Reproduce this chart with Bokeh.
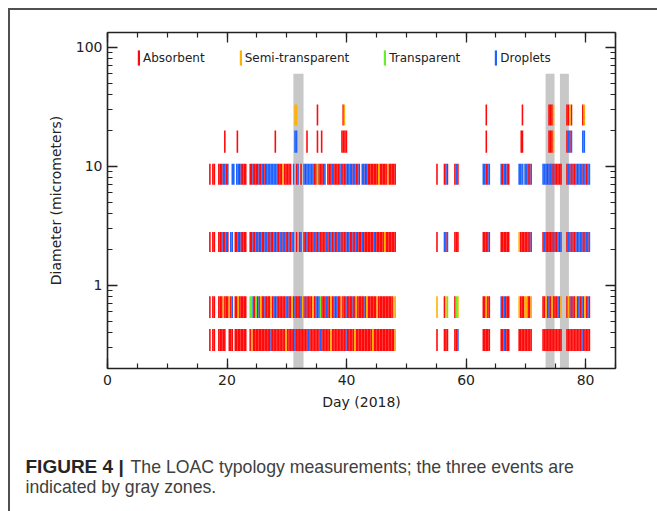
from bokeh.plotting import figure
from bokeh.layouts import column
from bokeh.models import (ColumnDataSource, LinearAxis, LogAxis, FixedTicker,
                          SingleIntervalTicker, Legend, LegendItem, Range1d)
from bokeh.core.properties import value
from bokeh.embed import file_html
from bokeh.resources import INLINE

# ---------------- data ----------------
FIRST_DAY = 17          # first day of the per-day code lists
SLOT = 0.25             # one code character = one measurement slot of 0.25 day
# codes: r = Absorbent, o = Semi-transparent, g = Transparent, b = Droplets, ' ' = none
blank = "    "
d03 = ["r rr", "  rr", "rrr ", " rrr", " rrr", "rrrr", "r  r", "orrr", "rrrr", "rrrr",
       "rbrr", "rrrr", "rrro", "rrrr", "rbrr", "rrrr", "rrbr", "rrrr", "rrbr", "rrrr",
       "rorr", "rrrr", "rrrb", "rrrr", "rorr", "rrrr", "rrrr", "rorr", "rrrr", "rrrr",
       "rrrr", "o   ", blank, blank, blank, blank, blank, blank, "r   ", " rrr",
       blank, "rrb ", blank, blank, blank, "   r", "rrrr", blank, "   r", "rbrr",
       "r   ", "   r", "rrrr", "rrrr", blank, "   r", "rrrr", "rrrr", "rrrr", "   r",
       "rrrr", "rrrr", "rbrr", "rrr "]
d06 = ["r rr", "  rr", "rorr", "rorb", " rro", "rrrr", "r  g", "gbrg", "rbor", "rbrr",
       "rorb", "rbrr", "rrrb", "brro", "rbrr", "rbor", "brrr", "rorb", "rbgr", "rrbr",
       "rorb", "rbrr", "orrb", "rrrr", "bror", "rrrb", "rorr", "rrrr", "orrr", "rrrr",
       "rrro", "o   ", blank, blank, blank, blank, blank, blank, "o   ", " rog",
       blank, "rgo ", blank, blank, blank, "   r", "rorr", blank, "   b", "rbrr",
       "r   ", "   o", "rrro", "orro", blank, "   r", "rorb", "rorr", "rbro", "   r",
       "orbr", "rorb", "rbro", "rbr "]
d2 = ["r rr", "  rr", "brrb", "r bb", " rrb", "rbrr", "r  r", "rbrb", "brbr", "rbbr",
      "brrb", "rbrb", "brbr", "rbrb", "b r ", "rb r", "rbrr", "rrbr", "rbrr", "rrbr",
      "rbrb", "rrbr", "brrb", "rbrr", "brbr", "rrbr", "rrrr", "rrbr", "rrrr", "rorr",
      "rrrr", "r   ", blank, blank, blank, blank, blank, blank, "r   ", " brb",
      blank, "rrr ", blank, blank, blank, "   r", "rrbr", blank, "   r", "rrrr",
      "r   ", "   o", "rrrr", "rrbr", blank, "   r", "brrr", "rrbr", "rbrb", "   r",
      "brbr", "rbrb", "brbr", "brb "]
d10 = ["r rr", "  rr", "rbbr", "b  b", "b bb", "rbrr", "r  r", "rbrr", "rbrb", "rrbb",
       "bbbb", "bbrr", "rorr", "rrr ", "b rb", " r b", "rbbb", "bbrr", "grrr", "rb r",
       "rrbr", "rrrb", "brrb", "rbbr", "bbrb", "r bb", "rbrr", "rrrr", "rorr", "rrro",
       "rrrr", "r   ", blank, blank, blank, blank, blank, blank, "r   ", " rbr",
       blank, "rbr ", blank, blank, blank, "   b", "brbb", blank, "   b", "rbrb",
       "r   ", "   b", "bbob", "brbr", blank, "   b", "bbrb", "brbr", "rrrr", "   r",
       "brbr", "rbrb", "brbb", "rbb "]
# sparse large-size classes: explicit measurement days and types
d16_days = [19.5, 21.6, 27.95, 31.25, 31.5, 33.25, 35.0, 35.7, 39.1, 39.35, 39.6, 39.85,
            63.25, 69.1, 69.3, 73.75, 74.0, 74.25, 74.5, 76.75, 77.0, 77.25, 77.5, 79.4, 79.65]
d16_types = list("rrrbbrrrrrrrrrrrrrorbrbbb")
d27_days = [31.25, 31.5, 35.0, 39.3, 39.5, 63.25, 69.3, 73.75, 74.0, 74.25, 74.5,
            76.75, 77.0, 77.25, 77.5, 79.4, 79.65]
d27_types = list("oorrorrrrrorrorro")

band_low = [0.28, 0.53, 1.9, 7.0, 13.0, 22.0]     # size-class limits (micrometers)
band_high = [0.43, 0.81, 2.8, 10.5, 20.0, 33.0]

event_start = [31.1, 73.3, 75.7]                   # gray zones (days)
event_end = [32.8, 74.8, 77.2]
event_top = 60.0

type_codes = ["r", "o", "g", "b"]
type_names = ["Absorbent", "Semi-transparent", "Transparent", "Droplets"]
type_colors = ["#ff0a0a", "#ffb000", "#66ee2a", "#1e62ff"]

x_ticks = [0, 20, 40, 60, 80]
y_ticks = [1, 10, 100]
y_minor = [0.2, 0.3, 0.4, 0.5, 0.6, 0.7, 0.8, 0.9,
           2, 3, 4, 5, 6, 7, 8, 9, 20, 30, 40, 50, 60, 70, 80, 90]

caption_bold = "FIGURE 4 |"
caption_line1 = "The LOAC typology measurements; the three events are"
caption_line2 = "indicated by gray zones."


def expand(codes):
    days, types = [], []
    for i, chunk in enumerate(codes):
        for k, c in enumerate(chunk):
            if c != " ":
                days.append(FIRST_DAY + i + k * SLOT)
                types.append(c)
    return days, types


rows = [expand(d03), expand(d06), expand(d2), expand(d10),
        (d16_days, d16_types), (d27_days, d27_types)]

# ---------------- chart ----------------
FONT = "DejaVu Sans"
W = 647
p = figure(width=W, height=420, x_range=Range1d(0, 85), y_range=Range1d(0.2, 133),
           y_axis_type="log", output_backend="svg", toolbar_location=None,
           min_border_left=97, min_border_right=42, min_border_top=22,
           min_border_bottom=62)
p.grid.visible = False
p.outline_line_color = None

p.quad(left=event_start, right=event_end, bottom=[0.2] * 3, top=[event_top] * 3,
       fill_color="#c8c8c8", line_color=None)

renderers = []
for code, color in zip(type_codes, type_colors):
    left, right, bottom, top = [], [], [], []
    for (days, types), lo, hi in zip(rows, band_low, band_high):
        for d, t in zip(days, types):
            if t == code:
                left.append(d)
                right.append(d + SLOT * 1.06)
                bottom.append(lo)
                top.append(hi)
    src = ColumnDataSource(dict(left=left, right=right, bottom=bottom, top=top))
    r = p.quad(left="left", right="right", bottom="bottom", top="top", source=src,
               fill_color=color, line_color=None)
    renderers.append(r)

legend = Legend(items=[LegendItem(label=n, renderers=[r]) for n, r in zip(type_names, renderers)],
                orientation="horizontal", location=(30, 301), glyph_width=3, glyph_height=19,
                label_height=19, label_standoff=3, spacing=34, padding=0, margin=0,
                border_line_color=None, background_fill_alpha=0,
                label_text_font=FONT, label_text_font_size="12px", label_text_color="#222222")
p.add_layout(legend)

xt = SingleIntervalTicker(interval=20, num_minor_ticks=4)
yt = FixedTicker(ticks=y_ticks, minor_ticks=y_minor)
p.xaxis.ticker = xt
p.yaxis.ticker = yt
p.yaxis.major_label_overrides = {t: str(t) for t in y_ticks}
p.xaxis.axis_label = "Day (2018)"
p.yaxis.axis_label = "Diameter (micrometers)"

top_axis = LinearAxis(ticker=xt, major_label_overrides={t: "" for t in x_ticks})
right_axis = LogAxis(ticker=yt, major_label_overrides={t: "" for t in y_ticks})
p.add_layout(top_axis, "above")
p.add_layout(right_axis, "right")

for ax in list(p.xaxis) + list(p.yaxis):
    ax.axis_line_color = "#222222"
    ax.axis_line_width = 1.6
    ax.major_tick_line_color = "#222222"
    ax.minor_tick_line_color = "#222222"
    ax.major_tick_line_width = 1.3
    ax.minor_tick_line_width = 1.2
    ax.major_tick_in = 10
    ax.major_tick_out = 0
    ax.minor_tick_in = 5
    ax.minor_tick_out = 0
    ax.major_label_text_font = FONT
    ax.major_label_text_font_size = "14px"
    ax.major_label_text_color = "#222222"
    ax.axis_label_text_font = FONT
    ax.axis_label_text_font_size = "14px"
    ax.axis_label_text_font_style = "normal"
    ax.axis_label_text_color = "#222222"
    ax.major_label_standoff = 6
    ax.axis_label_standoff = 6
p.yaxis.axis_label_standoff = 9
p.yaxis.major_label_standoff = 5

# ---------------- caption ----------------
CH = 81
cap = figure(width=W, height=CH, x_range=Range1d(0, W), y_range=Range1d(CH, 0),
             output_backend="svg", toolbar_location=None, min_border=0,
             x_axis_location=None, y_axis_location=None)
cap.grid.visible = False
cap.outline_line_color = None
for fig in (p, cap):
    try:
        fig.frame_align = False
    except Exception:
        pass
CAP_FONT = value("Liberation Sans")
cap.text(x=[15], y=[36], text=[caption_bold], text_font=CAP_FONT, text_font_style="bold",
         text_font_size="19px", text_color="#262626", text_baseline="alphabetic")
cap.text(x=[120, 15], y=[36, 56], text=[caption_line1, caption_line2], text_font=CAP_FONT,
         text_font_size="17.7px", text_color="#404040", text_baseline="alphabetic")

layout = column(p, cap, spacing=0,
                styles={"margin-left": "8px", "margin-top": "8px",
                        "border-top": "2px solid #505050", "border-left": "2px solid #505050"})

open("out.html", "w").write(file_html(layout, INLINE))
